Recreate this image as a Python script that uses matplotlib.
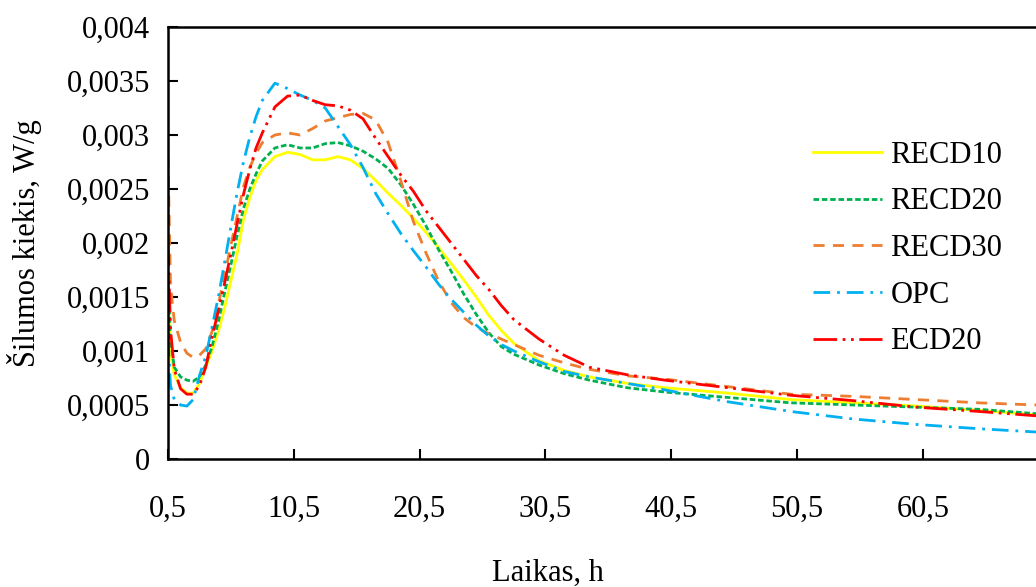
import matplotlib
matplotlib.use("Agg")
import matplotlib.pyplot as plt

plt.rcParams['font.family'] = ['Liberation Serif', 'DejaVu Serif']

time_h = [0.5, 0.7, 1.0, 1.5, 2.0, 2.5, 3.0, 3.5, 4.0, 4.5, 5.0, 5.5, 6.0, 6.5, 7.0, 7.5,
          8.0, 9.0, 10.0, 11.0, 12.0, 13.0, 14.0, 15.0, 16.0, 17.0, 18.0, 19.0, 20.0,
          21.0, 22.0, 23.0, 24.0, 25.0, 26.0, 27.0, 28.0, 30.0, 32.0, 34.0, 37.0, 40.0,
          45.0, 50.0, 55.0, 60.0, 65.0, 69.5]

recd10 = [0.0015, 0.00098, 0.00078, 0.00066, 0.00061, 0.00061, 0.0007, 0.00085, 0.001, 0.00118,
          0.0014, 0.00165, 0.0019, 0.00222, 0.00242, 0.00258, 0.00268, 0.0028, 0.00284, 0.00282,
          0.00277, 0.00277, 0.0028, 0.00277, 0.00269, 0.00258, 0.00246, 0.00235, 0.00223,
          0.0021, 0.00196, 0.00181, 0.00166, 0.0015, 0.00133, 0.00119, 0.00107, 0.00091, 0.00082,
          0.00076, 0.0007, 0.00066, 0.00061, 0.00055, 0.00052, 0.00049, 0.00045, 0.00041]

recd20 = [0.0017, 0.0011, 0.00085, 0.00076, 0.00073, 0.00072, 0.00076, 0.00087, 0.00104, 0.00127,
          0.00154, 0.0018, 0.00207, 0.00232, 0.0025, 0.00264, 0.00276, 0.00288, 0.00291, 0.00288,
          0.00288, 0.00292, 0.00293, 0.0029, 0.00285, 0.00278, 0.00269, 0.00254, 0.00236,
          0.00216, 0.00194, 0.00174, 0.00153, 0.00134, 0.00117, 0.00104, 0.00097, 0.00087, 0.00079,
          0.00073, 0.00066, 0.00062, 0.00057, 0.00052, 0.0005, 0.00048, 0.00046, 0.00042]

recd30 = [0.0028, 0.0016, 0.00128, 0.00108, 0.00098, 0.00094, 0.00096, 0.00102, 0.00118, 0.00143,
          0.0017, 0.00198, 0.00225, 0.00252, 0.0027, 0.00283, 0.00293, 0.003, 0.00302, 0.003,
          0.00306, 0.00313, 0.00316, 0.00319, 0.0032, 0.00314, 0.00293, 0.00258, 0.0022,
          0.00191, 0.00165, 0.00145, 0.00131, 0.00122, 0.00116, 0.00111, 0.00106, 0.00096, 0.00089,
          0.00083, 0.00077, 0.00074, 0.00067, 0.0006, 0.00058, 0.00055, 0.00052, 0.0005]

opc = [0.0011, 0.00068, 0.00055, 0.0005, 0.00049, 0.00055, 0.00077, 0.00095, 0.00122, 0.0015,
       0.00182, 0.00215, 0.00247, 0.00275, 0.00298, 0.00317, 0.00332, 0.00348, 0.00343, 0.00337,
       0.00332, 0.00325, 0.00308, 0.00291, 0.0027, 0.00246, 0.00227, 0.00209, 0.00193,
       0.00178, 0.00162, 0.00148, 0.00136, 0.00124, 0.00114, 0.00106, 0.001, 0.0009, 0.00081,
       0.00076, 0.0007, 0.00064, 0.00053, 0.00044, 0.00037, 0.00032, 0.00028, 0.00025]

ecd20 = [0.002, 0.0012, 0.00083, 0.00065, 0.0006, 0.0006, 0.00068, 0.00085, 0.00113, 0.00137,
         0.00163, 0.0019, 0.00218, 0.00245, 0.00268, 0.00288, 0.00302, 0.00326, 0.00336, 0.00337,
         0.00332, 0.00328, 0.00327, 0.00323, 0.00315, 0.00297, 0.0028, 0.00263, 0.00248,
         0.0023, 0.00215, 0.002, 0.00185, 0.0017, 0.00157, 0.00142, 0.00129, 0.00111, 0.00096,
         0.00085, 0.00078, 0.00073, 0.00066, 0.00059, 0.00054, 0.00048, 0.00044, 0.0004]

series_names = ['RECD10', 'RECD20', 'RECD30', 'OPC', 'ECD20']
series_values = [recd10, recd20, recd30, opc, ecd20]

x_ticks = [0.5, 10.5, 20.5, 30.5, 40.5, 50.5, 60.5]
x_tick_labels = ['0,5', '10,5', '20,5', '30,5', '40,5', '50,5', '60,5']
y_ticks = [0, 0.0005, 0.001, 0.0015, 0.002, 0.0025, 0.003, 0.0035, 0.004]
y_tick_labels = ['0', '0,0005', '0,001', '0,0015', '0,002', '0,0025', '0,003', '0,0035', '0,004']

styles = [
    dict(color='#FFFF00', linestyle='-'),
    dict(color='#00B050', linestyle=(0, (2, 1))),
    dict(color='#ED7D31', linestyle=(0, (4, 3))),
    dict(color='#00B0F0', linestyle=(0, (6, 2.5, 1, 2.5))),
    dict(color='#FF0000', linestyle=(0, (8.5, 2, 1, 2, 1, 2))),
]

W, H = 1036, 587
fig = plt.figure(figsize=(W / 100, H / 100), dpi=100)
ax = fig.add_axes([168 / W, 1 - 459 / H, 868 / W, 432 / H])

for name, vals, st in zip(series_names, series_values, styles):
    ax.plot(time_h, vals, lw=2, label=name, **st)

ax.set_xlim(0.5, 69.5)
ax.set_ylim(0, 0.004)
ax.set_xticks(x_ticks)
ax.set_xticklabels(x_tick_labels)
ax.set_yticks(y_ticks)
ax.set_yticklabels(y_tick_labels)
ax.tick_params(direction='in', length=7, width=1.5, labelsize=22)
ax.tick_params(axis='x', pad=26)
ax.tick_params(axis='y', pad=13)
for side in ['left', 'bottom', 'top']:
    ax.spines[side].set_linewidth(1.8)
ax.spines['right'].set_visible(False)

leg = fig.legend(loc='center left', bbox_to_anchor=(813 / W, 1 - 248.5 / H),
                 frameon=False, fontsize=22, handlelength=2.25, handletextpad=0.28,
                 labelspacing=0.58, borderpad=0, borderaxespad=0)

fig.text(25 / W, 1 - 243 / H, 'Šilumos kiekis, W/g', rotation=90, ha='center', va='center',
         fontsize=22)
fig.text(548 / W, 1 - 573 / H, 'Laikas, h', ha='center', va='center', fontsize=22)

fig.savefig('out.png', dpi=100)
